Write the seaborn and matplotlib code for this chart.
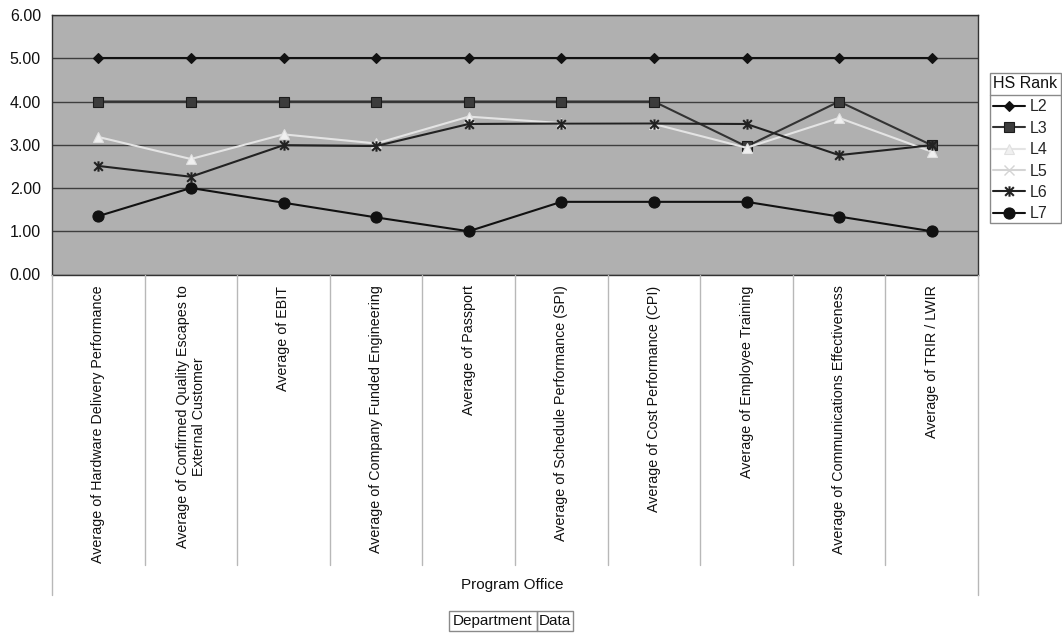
import numpy as np
import pandas as pd
import matplotlib
matplotlib.use("Agg")
import matplotlib.pyplot as plt
import seaborn as sns
from matplotlib.path import Path
from matplotlib.lines import Line2D
from matplotlib.patches import Rectangle
from matplotlib.transforms import blended_transform_factory

# ---- data -------------------------------------------------------------
metrics = [
    "Average of Hardware Delivery Performance",
    "Average of Confirmed Quality Escapes to\nExternal Customer",
    "Average of EBIT",
    "Average of Company Funded Engineering",
    "Average of Passport",
    "Average of Schedule Performance (SPI)",
    "Average of Cost Performance (CPI)",
    "Average of Employee Training",
    "Average of Communications Effectiveness",
    "Average of TRIR / LWIR",
]
ranks = ["L2", "L3", "L4", "L5", "L6", "L7"]
l2 = [5.00, 5.00, 5.00, 5.00, 5.00, 5.00, 5.00, 5.00, 5.00, 5.00]
l3 = [4.00, 4.00, 4.00, 4.00, 4.00, 4.00, 4.00, 2.96, 4.00, 2.99]
l4 = [3.18, 2.67, 3.24, 3.03, 3.65, 3.50, 3.48, 2.93, 3.62, 2.84]
l5 = [np.nan] * 10
l6 = [2.51, 2.26, 2.99, 2.97, 3.48, 3.49, 3.49, 3.48, 2.76, 2.99]
l7 = [1.35, 2.00, 1.66, 1.32, 1.00, 1.68, 1.68, 1.68, 1.34, 1.00]
y_ticks = [0, 1, 2, 3, 4, 5, 6]

series = dict(zip(ranks, [l2, l3, l4, l5, l6, l7]))
rows = []
for r, vals in series.items():
    for i, v in enumerate(vals):
        rows.append({"rank": r, "pos": i, "value": v})
df = pd.DataFrame(rows)

# ---- styles -----------------------------------------------------------
star = Path([(-1, -1), (1, 1), (-1, 1), (1, -1), (0, -1.2), (0, 1.2)],
            [Path.MOVETO, Path.LINETO, Path.MOVETO, Path.LINETO, Path.MOVETO, Path.LINETO])
styles = {
    "L2": dict(color="#111111", marker="D", ms=5.5, mfc="#111111", mec="#111111", mew=0.8),
    "L3": dict(color="#333333", marker="s", ms=6.5, mfc="#3c3c3c", mec="#1c1c1c", mew=0.8),
    "L4": dict(color="#e4e4e4", marker="^", ms=7, mfc="#f0f0f0", mec="#e0e0e0", mew=0.8),
    "L5": dict(color="#d4d4d4", marker="x", ms=6.5, mfc="#d4d4d4", mec="#d4d4d4", mew=1.0),
    "L6": dict(color="#222222", marker=star, ms=7.5, mfc="#222222", mec="#222222", mew=1.5),
    "L7": dict(color="#111111", marker="o", ms=8, mfc="#111111", mec="#111111", mew=0.8),
}

sns.set_style("white")
plt.rcParams["font.family"] = ["Liberation Sans", "DejaVu Sans"]

W, H = 1062, 633
fx = lambda px: px / W
fy = lambda py: 1 - py / H

fig = plt.figure(figsize=(W / 100, H / 100), dpi=100)
fig.patch.set_facecolor("white")
ax = fig.add_axes([fx(52), fy(274.5), fx(978) - fx(52), fy(15) - fy(274.5)])
ax.set_facecolor("#b0b0b0")

for r in ranks:
    sub = df[df["rank"] == r]
    if not np.isfinite(sub["value"]).any():
        continue
    st = styles[r]
    sns.lineplot(data=sub, x="pos", y="value", ax=ax, color=st["color"], lw=1.5,
                 marker=st["marker"], markersize=st["ms"], markerfacecolor=st["mfc"],
                 markeredgecolor=st["mec"], markeredgewidth=st["mew"], legend=False,
                 zorder=3, clip_on=False)

ax.set_xlim(-0.5, len(metrics) - 0.5)
ax.set_ylim(0, 6)
ax.set_yticks(y_ticks)
ax.set_yticklabels([f"{v:.2f}" for v in y_ticks], fontsize=11.5, color="#111111")
ax.yaxis.grid(True, color="#3e3e3e", lw=1.0)
ax.set_axisbelow(True)
ax.set_xticks(range(len(metrics)))
ax.set_xticklabels(metrics, rotation=90, va="top", ha="center",
                   multialignment="center", fontsize=10.3, color="#111111")
ax.tick_params(axis="x", length=0, pad=8)
ax.tick_params(axis="y", length=0, pad=8)
ax.set_xlabel("")
ax.set_ylabel("")
for s in ax.spines.values():
    s.set_color("#333333")
    s.set_linewidth(1.0)

# category separators below the plot area
trans = blended_transform_factory(ax.transData, fig.transFigure)
for k in range(len(metrics) + 1):
    x = k - 0.5
    bottom = 595 if k in (0, len(metrics)) else 565
    fig.add_artist(Line2D([x, x], [fy(275), fy(bottom)], transform=trans,
                          color="#b8b8b8", lw=1.0))

fig.text(fx(512), fy(585), "Program Office", ha="center", va="center",
         fontsize=11, color="#111111")

# field buttons
fig.add_artist(Rectangle((fx(449), fy(631)), fx(537) - fx(449), fy(611) - fy(631),
                         transform=fig.transFigure, fill=False, ec="#8a8a8a", lw=1))
fig.add_artist(Rectangle((fx(537), fy(631)), fx(573) - fx(537), fy(611) - fy(631),
                         transform=fig.transFigure, fill=False, ec="#8a8a8a", lw=1))
fig.text(fx(493), fy(621), "Department", ha="center", va="center", fontsize=11, color="#111111")
fig.text(fx(555), fy(621), "Data", ha="center", va="center", fontsize=11, color="#111111")

# legend with title box
fig.add_artist(Rectangle((fx(990), fy(223)), fx(1061) - fx(990), fy(73) - fy(223),
                         transform=fig.transFigure, fill=False, ec="#8a8a8a", lw=1))
fig.add_artist(Line2D([fx(990), fx(1061)], [fy(95), fy(95)], transform=fig.transFigure,
                      color="#8a8a8a", lw=1))
fig.text(fx(1025.5), fy(84), "HS Rank", ha="center", va="center", fontsize=11.5, color="#111111")
handles = []
for r in ranks:
    st = styles[r]
    handles.append(Line2D([], [], color=st["color"], lw=1.5, marker=st["marker"],
                          ms=st["ms"], mfc=st["mfc"], mec=st["mec"], mew=st["mew"]))
fig.legend(handles, ranks, loc="upper left", bbox_to_anchor=(fx(991), fy(97)),
           frameon=False, fontsize=11.5, handlelength=2.0, labelspacing=0.4,
           borderpad=0.15, handletextpad=0.25, borderaxespad=0)

fig.savefig("out.png", dpi=100, facecolor="white")
